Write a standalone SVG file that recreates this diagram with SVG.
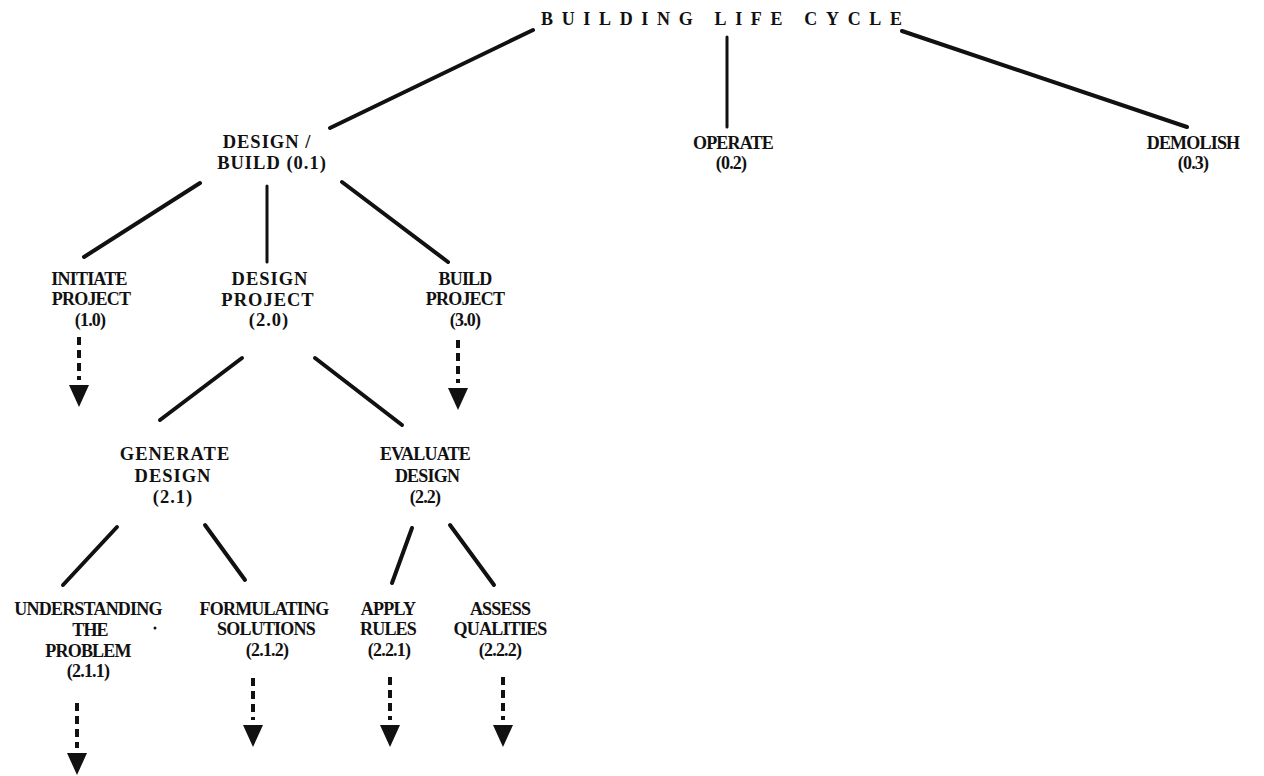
<svg xmlns="http://www.w3.org/2000/svg" width="1264" height="776" viewBox="0 0 1264 776">
<style>
.a{font-family:"Liberation Serif","Times New Roman",serif;font-weight:bold;font-size:18.5px;letter-spacing:1px;text-anchor:middle;fill:#111}
.b{font-family:"Liberation Serif","Times New Roman",serif;font-weight:bold;font-size:18px;letter-spacing:-0.8px;text-anchor:middle;fill:#111}
.t{font-family:"Liberation Serif","Times New Roman",serif;font-weight:bold;font-size:18px;fill:#111}
.ln{stroke:#111;stroke-width:4;stroke-linecap:round;fill:none}
.ds{stroke:#111;stroke-width:4;stroke-dasharray:8 5;fill:none}
</style>
<defs>
<path id="ah" d="M-10,0 L10,0 L0,22 Z" fill="#111"/>
</defs>
<rect width="1264" height="776" fill="#fff"/>
<g id="connectors">
<line class="ln" x1="533" y1="30" x2="330" y2="128"/>
<line class="ln" x1="727" y1="37" x2="727" y2="127" style="stroke-width:3"/>
<line class="ln" x1="902" y1="31" x2="1187" y2="127"/>
<line class="ln" x1="200" y1="183" x2="84" y2="257"/>
<line class="ln" x1="267" y1="186" x2="267" y2="262" style="stroke-width:3"/>
<line class="ln" x1="342" y1="182" x2="448" y2="262"/>
<line class="ln" x1="242" y1="358" x2="160" y2="420"/>
<line class="ln" x1="315" y1="358" x2="402" y2="425"/>
<line class="ln" x1="117" y1="527" x2="63" y2="585"/>
<line class="ln" x1="205" y1="525" x2="245" y2="580"/>
<line class="ln" x1="412" y1="528" x2="392" y2="583"/>
<line class="ln" x1="450" y1="525" x2="494" y2="585"/>
<line class="ds" x1="79" y1="337" x2="79" y2="380"/>
<use href="#ah" x="79" y="385"/>
<line class="ds" x1="458" y1="340" x2="458" y2="383"/>
<use href="#ah" x="458" y="388"/>
<line class="ds" x1="77" y1="703" x2="77" y2="748"/>
<use href="#ah" x="77" y="753"/>
<line class="ds" x1="253" y1="678" x2="253" y2="720"/>
<use href="#ah" x="253" y="725"/>
<line class="ds" x1="390" y1="677" x2="390" y2="720"/>
<use href="#ah" x="390" y="725"/>
<line class="ds" x1="503" y1="677" x2="503" y2="720"/>
<use href="#ah" x="503" y="725"/>
</g>
<g id="n-root"><text class="t" x="541" y="25" textLength="361" lengthAdjust="spacing">BUILDING LIFE CYCLE</text></g>
<g id="n-01"><text class="a" x="267" y="148">DESIGN /</text><text class="a" x="272" y="169">BUILD (0.1)</text></g>
<g id="n-02"><text class="b" x="733" y="149">OPERATE</text><text class="b" x="731" y="169">(0.2)</text></g>
<g id="n-03"><text class="b" x="1193" y="149">DEMOLISH</text><text class="b" x="1193" y="169">(0.3)</text></g>
<g id="n-10"><text class="b" x="89" y="285">INITIATE</text><text class="b" x="91" y="305">PROJECT</text><text class="b" x="90" y="326">(1.0)</text></g>
<g id="n-20"><text class="a" x="270" y="285">DESIGN</text><text class="a" x="268" y="306">PROJECT</text><text class="a" x="269" y="326">(2.0)</text></g>
<g id="n-30"><text class="b" x="465" y="285">BUILD</text><text class="b" x="465" y="305">PROJECT</text><text class="b" x="465" y="326">(3.0)</text></g>
<g id="n-21"><text class="a" x="175" y="460">GENERATE</text><text class="a" x="173" y="482">DESIGN</text><text class="a" x="173" y="503">(2.1)</text></g>
<g id="n-22"><text class="b" x="425" y="460">EVALUATE</text><text class="b" x="427" y="482">DESIGN</text><text class="b" x="425" y="503">(2.2)</text></g>
<g id="n-211"><text class="b" x="88" y="615">UNDERSTANDING</text><text class="b" x="90" y="636">THE</text><text class="b" x="88" y="657">PROBLEM</text><text class="b" x="88" y="677">(2.1.1)</text><circle cx="155" cy="628" r="1.5" fill="#111"/></g>
<g id="n-212"><text class="b" x="264" y="615">FORMULATING</text><text class="b" x="266" y="635">SOLUTIONS</text><text class="b" x="267" y="656">(2.1.2)</text></g>
<g id="n-221"><text class="b" x="388" y="615">APPLY</text><text class="b" x="388" y="635">RULES</text><text class="b" x="389" y="656">(2.2.1)</text></g>
<g id="n-222"><text class="b" x="500" y="615">ASSESS</text><text class="b" x="500" y="635">QUALITIES</text><text class="b" x="500" y="656">(2.2.2)</text></g>
</svg>
